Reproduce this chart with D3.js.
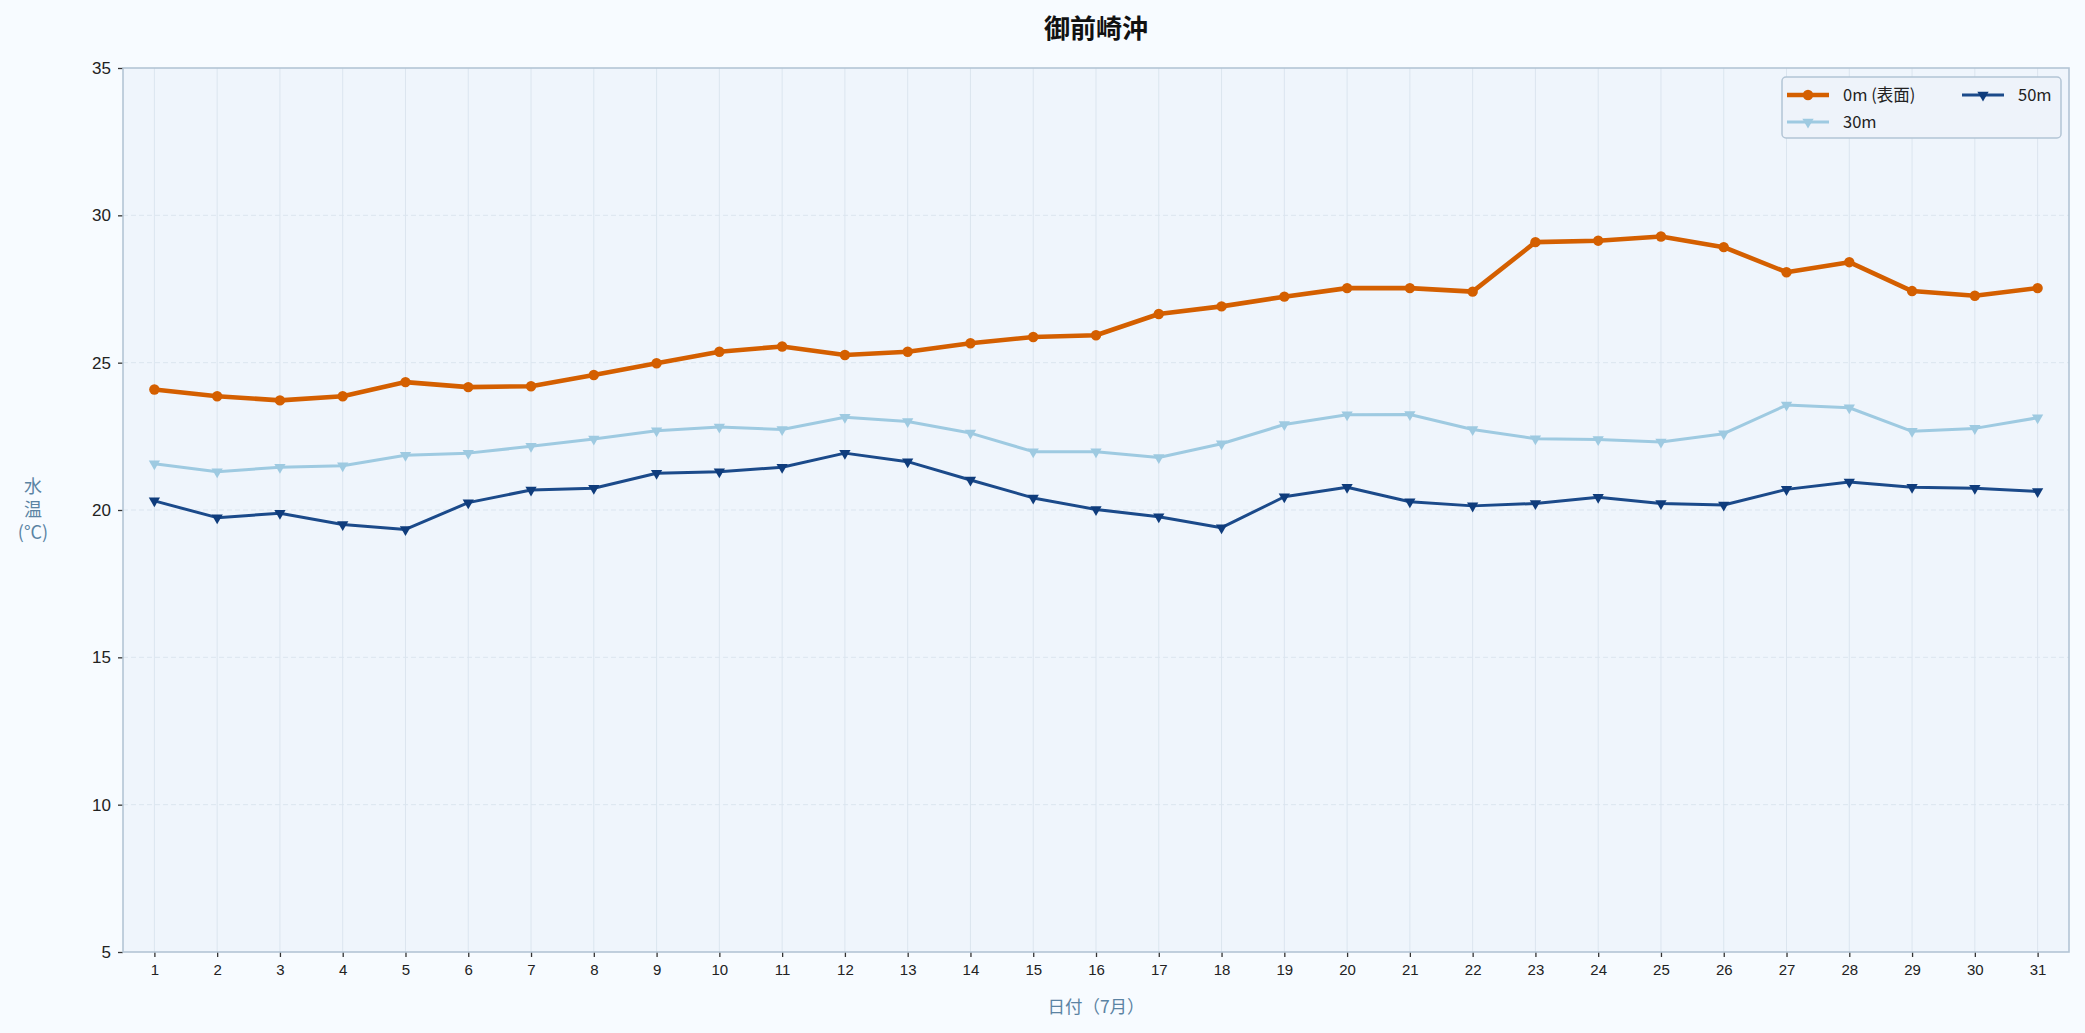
<!DOCTYPE html>
<html>
<head>
<meta charset="utf-8">
<script src="https://cdn.jsdelivr.net/npm/d3@7"></script>
<style>
  body { margin: 0; background: #f7fbff; }
  svg { display: block; font-family: "Noto Sans CJK JP", "Noto Sans", sans-serif; }
  .tick text { fill: #222; }
  .axis-label { fill: #5b83a3; }
</style>
</head>
<body>
<svg width="2085" height="1033"></svg>
<script>
// data (July, 御前崎沖)
const days = d3.range(1, 32);
const temp0m = [24.09, 23.86, 23.72, 23.86, 24.34, 24.17, 24.20, 24.58, 24.98, 25.37,
                25.55, 25.26, 25.37, 25.66, 25.87, 25.93, 26.65, 26.91, 27.24, 27.53,
                27.53, 27.41, 29.09, 29.14, 29.28, 28.92, 28.07, 28.41, 27.43, 27.27, 27.53];
const temp30m = [21.57, 21.30, 21.45, 21.50, 21.86, 21.93, 22.16, 22.41, 22.69, 22.82,
                 22.73, 23.15, 23.00, 22.61, 21.98, 21.98, 21.78, 22.25, 22.90, 23.23,
                 23.24, 22.73, 22.42, 22.39, 22.31, 22.59, 23.56, 23.47, 22.67, 22.77, 23.13];
const temp50m = [20.31, 19.74, 19.89, 19.51, 19.34, 20.25, 20.68, 20.74, 21.25, 21.30,
                 21.45, 21.93, 21.64, 21.02, 20.41, 20.02, 19.77, 19.40, 20.45, 20.77,
                 20.28, 20.14, 20.22, 20.43, 20.22, 20.17, 20.70, 20.95, 20.77, 20.74, 20.63];
const yTicks = [5, 10, 15, 20, 25, 30, 35];
const seriesNames = ["0m (表面)", "30m", "50m"];

const series = [
  { name: seriesNames[0], values: temp0m, color: "#d45f00", width: 4.6, marker: "circle", size: 85 },
  { name: seriesNames[1], values: temp30m, color: "#9ecae1", width: 3, marker: "tri", size: 55 },
  { name: seriesNames[2], values: temp50m, color: "#1b4a8a", width: 3, marker: "tri", size: 55, mcolor: "#0f3c7c" }
];

const plotLeft = 123, plotRight = 2069, plotTop = 68, plotBottom = 952;
const svg = d3.select("svg");

const x = d3.scaleLinear().domain([0.5, 31.5]).range([plotLeft, plotRight]);
const y = d3.scaleLinear().domain([5, 35]).range([plotBottom, plotTop]);

// plot background
svg.append("rect")
  .attr("x", plotLeft).attr("y", plotTop)
  .attr("width", plotRight - plotLeft).attr("height", plotBottom - plotTop)
  .attr("fill", "#eff5fc");

// grid
svg.append("g")
  .selectAll("line")
  .data(days)
  .join("line")
  .attr("x1", d => x(d)).attr("x2", d => x(d))
  .attr("y1", plotTop).attr("y2", plotBottom)
  .attr("stroke", "#dbe5ef").attr("stroke-width", 1);

svg.append("g")
  .selectAll("line")
  .data(yTicks.slice(1, -1))
  .join("line")
  .attr("x1", plotLeft).attr("x2", plotRight)
  .attr("y1", d => y(d)).attr("y2", d => y(d))
  .attr("stroke", "#dbe5ef").attr("stroke-width", 1)
  .attr("stroke-dasharray", "5,3");

// axes
const xAxis = svg.append("g")
  .attr("transform", "translate(0," + plotBottom + ")")
  .call(d3.axisBottom(x).tickValues(days).tickFormat(d3.format("d")).tickSizeOuter(0).tickSize(5).tickPadding(7));
xAxis.selectAll("text").attr("font-size", 15);

const yAxis = svg.append("g")
  .attr("transform", "translate(" + plotLeft + ",0)")
  .call(d3.axisLeft(y).tickValues(yTicks).tickSizeOuter(0).tickSize(5).tickPadding(7));
yAxis.selectAll("text").attr("font-size", 17);

svg.selectAll(".domain").remove();
svg.selectAll(".tick line").attr("stroke", "#333").attr("stroke-width", 1.3);

// frame
svg.append("rect")
  .attr("x", plotLeft).attr("y", plotTop)
  .attr("width", plotRight - plotLeft).attr("height", plotBottom - plotTop)
  .attr("fill", "none")
  .attr("stroke", "#b3c5d5").attr("stroke-width", 1.6);

// lines + markers
const line = d3.line().x((d, i) => x(days[i])).y(d => y(d));
const triangle = d3.symbol().type(d3.symbolTriangle);
const circle = d3.symbol().type(d3.symbolCircle);

function drawMarker(g, s, cx, cy) {
  const shape = s.marker === "circle" ? circle : triangle;
  g.append("path")
    .attr("d", shape.size(s.size)())
    .attr("transform", "translate(" + cx + "," + cy + ")" + (s.marker === "circle" ? "" : " rotate(180)"))
    .attr("fill", s.mcolor || s.color);
}

series.forEach(s => {
  const g = svg.append("g");
  g.append("path")
    .datum(s.values)
    .attr("d", line)
    .attr("fill", "none")
    .attr("stroke", s.color)
    .attr("stroke-width", s.width)
    .attr("stroke-linejoin", "round");
  s.values.forEach((v, i) => drawMarker(g, s, x(days[i]), y(v)));
});

// legend
const legend = svg.append("g");
legend.append("rect")
  .attr("x", 1782).attr("y", 77)
  .attr("width", 279).attr("height", 61)
  .attr("rx", 4)
  .attr("fill", "#eef3fa")
  .attr("stroke", "#b3c5d5").attr("stroke-width", 1.5);

const legendPos = [[1787, 95], [1787, 122], [1962, 95]];
series.forEach((s, i) => {
  const [lx, ly] = legendPos[i];
  legend.append("line")
    .attr("x1", lx).attr("x2", lx + 42)
    .attr("y1", ly).attr("y2", ly)
    .attr("stroke", s.color).attr("stroke-width", s.width);
  drawMarker(legend, s, lx + 21, ly);
  legend.append("text")
    .attr("x", lx + 56).attr("y", ly)
    .attr("dy", "0.35em")
    .attr("font-size", 16.5)
    .attr("fill", "#222")
    .text(s.name);
});

// title
svg.append("text")
  .attr("x", (plotLeft + plotRight) / 2).attr("y", 38)
  .attr("text-anchor", "middle")
  .attr("font-size", 26)
  .attr("font-weight", "bold")
  .attr("fill", "#111")
  .text("御前崎沖");

// axis labels
svg.append("text")
  .attr("class", "axis-label")
  .attr("x", (plotLeft + plotRight) / 2).attr("y", 1013)
  .attr("text-anchor", "middle")
  .attr("font-size", 17.5)
  .text("日付（7月）");

const yLab = svg.append("text")
  .attr("class", "axis-label")
  .attr("text-anchor", "middle")
  .attr("font-size", 18);
["水", "温", "(°C)"].forEach((t, i) => {
  yLab.append("tspan")
    .attr("x", 33).attr("y", 493 + i * 23)
    .text(t);
});
</script>
</body>
</html>
